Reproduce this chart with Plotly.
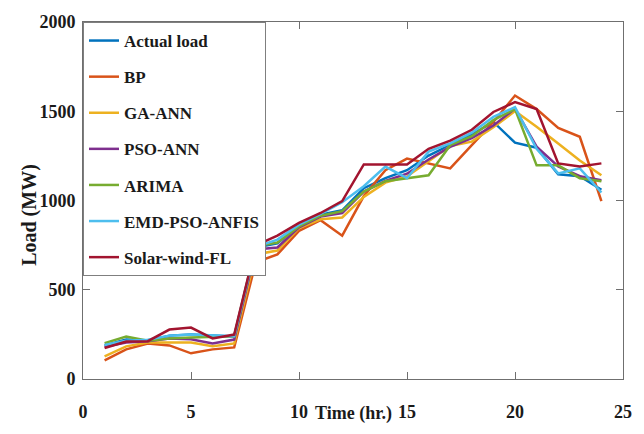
import plotly.graph_objects as go

hours = list(range(1, 25))
actual = [188, 221, 215, 243, 249, 243, 238, 737, 760, 860, 920, 945, 1069, 1125, 1170, 1252, 1310, 1370, 1440, 1324, 1296, 1147, 1136, 1060]
bp = [105, 166, 199, 188, 144, 166, 177, 654, 698, 830, 890, 803, 1025, 1170, 1235, 1208, 1180, 1310, 1440, 1588, 1512, 1407, 1357, 997]
ga = [127, 183, 205, 205, 205, 183, 199, 698, 720, 845, 895, 905, 1020, 1100, 1135, 1220, 1305, 1330, 1410, 1501, 1413, 1319, 1224, 1141]
pso = [180, 205, 212, 227, 222, 199, 221, 726, 737, 850, 910, 930, 1050, 1110, 1150, 1230, 1300, 1350, 1420, 1515, 1302, 1191, 1136, 1114]
arima = [201, 238, 215, 227, 233, 235, 240, 745, 765, 855, 915, 940, 1050, 1108, 1125, 1141, 1310, 1360, 1450, 1512, 1197, 1197, 1125, 1108]
emd = [190, 215, 220, 243, 249, 245, 240, 740, 781, 865, 925, 990, 1080, 1190, 1125, 1274, 1320, 1380, 1468, 1523, 1290, 1152, 1180, 1045]
swfl = [174, 210, 212, 277, 288, 227, 249, 748, 803, 875, 930, 997, 1202, 1202, 1202, 1290, 1335, 1396, 1496, 1551, 1512, 1208, 1191, 1208]

names = ["Actual load", "BP", "GA-ANN", "PSO-ANN", "ARIMA", "EMD-PSO-ANFIS", "Solar-wind-FL"]
series = [actual, bp, ga, pso, arima, emd, swfl]
colors = ["#0072BD", "#D95319", "#EDB120", "#7E2F8E", "#77AC30", "#4DBEEE", "#A2142F"]

FONT = "Liberation Serif"

fig = go.Figure()
for i, (n, s, c) in enumerate(zip(names, series, colors)):
    fig.add_trace(go.Scatter(x=hours, y=s, name=n, mode="lines",
                             line=dict(color=c, width=2.5), legendgroup=f"g{i}"))

fig.update_layout(
    width=644, height=434,
    margin=dict(l=83, r=19, t=21, b=51),
    paper_bgcolor="white", plot_bgcolor="white",
    font=dict(family=FONT, color="#1a1a1a"),
    showlegend=True,
    legend=dict(x=0, y=1, xanchor="left", yanchor="top",
                bordercolor="#7f7f7f", borderwidth=1, bgcolor="white",
                font=dict(family=FONT, size=17, color="#1a1a1a", weight="bold"),
                tracegroupgap=11, itemwidth=30),
    xaxis=dict(range=[0, 25], dtick=5, tick0=0, showgrid=False, zeroline=False,
               showline=True, linecolor="#6f6f6f", linewidth=1, mirror="ticks",
               ticks="inside", ticklen=7, tickcolor="#6f6f6f",
               tickfont=dict(family=FONT, size=18, color="#1a1a1a", weight="bold"),
               ticklabelstandoff=16),
    yaxis=dict(range=[0, 2000], dtick=500, tick0=0, showgrid=False, zeroline=False,
               showline=True, linecolor="#6f6f6f", linewidth=1, mirror="ticks",
               ticks="inside", ticklen=7, tickcolor="#6f6f6f",
               tickfont=dict(family=FONT, size=18, color="#1a1a1a", weight="bold"),
               ticklabelstandoff=3),
)

fig.add_annotation(text="Load (MW)", xref="paper", yref="paper",
                   x=-0.098, y=0.46, xanchor="center", yanchor="middle",
                   textangle=-90, showarrow=False,
                   font=dict(family=FONT, size=20, color="#1a1a1a", weight="bold"))
fig.add_annotation(text="Time (hr.)", xref="paper", yref="paper",
                   x=0.5, y=-0.097, xanchor="center", yanchor="middle",
                   showarrow=False,
                   font=dict(family=FONT, size=18, color="#1a1a1a", weight="bold"))

fig.write_html("out.html")
